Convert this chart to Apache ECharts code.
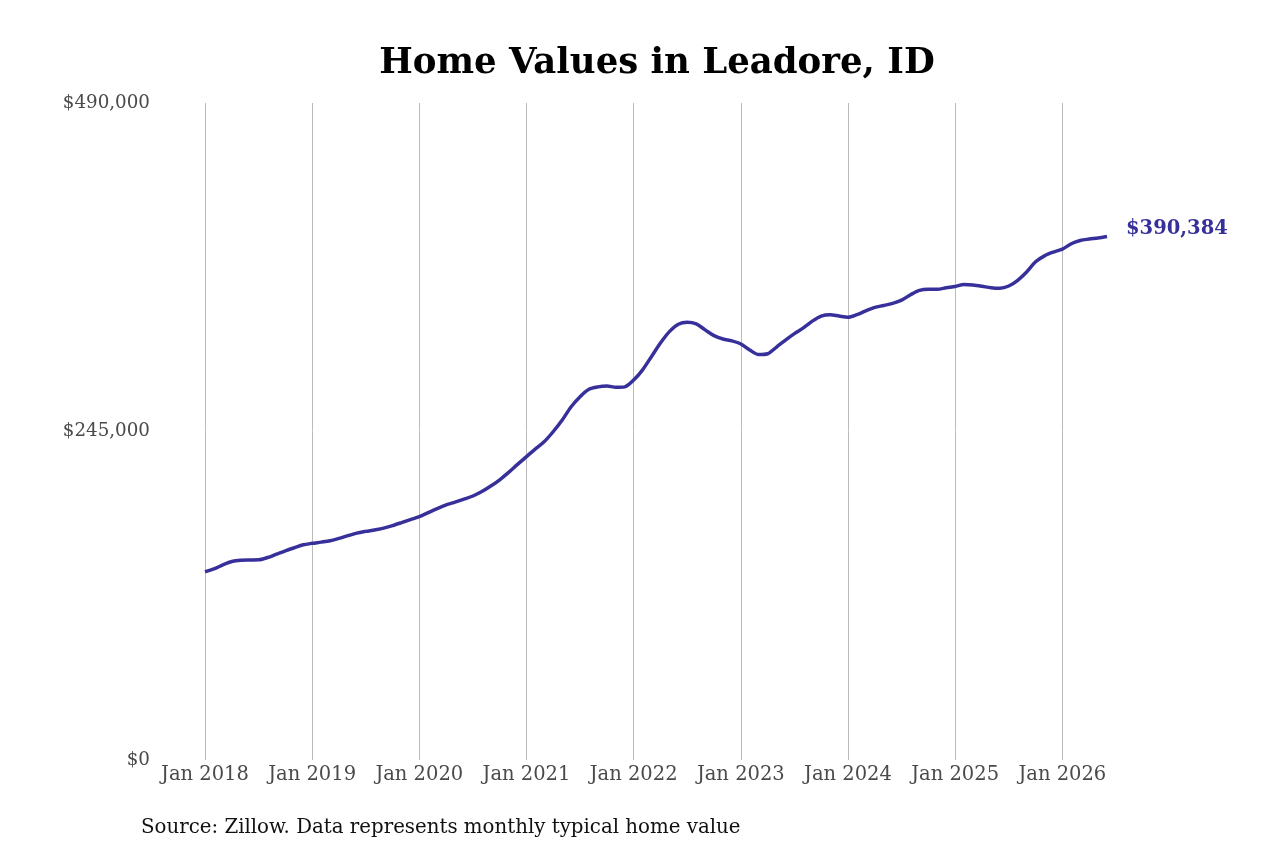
<!DOCTYPE html>
<html>
<head>
<meta charset="utf-8">
<title>Home Values in Leadore, ID</title>
<script src="https://cdn.jsdelivr.net/npm/echarts@6/dist/echarts.min.js"></script>
<style>
  html, body { margin: 0; padding: 0; background: #fff; }
  #chart { width: 1280px; height: 853px; }
</style>
</head>
<body>
<div id="chart"></div>
<script>
// monthly typical home value, Jan 2018 .. Jun 2026
var startYear = 2018;
var values = [
    140400, 142500, 145500, 148000, 149000, 149200, 149300, 151000, 153500, 156000, 158300, 160500,
    161600, 162500, 163500, 165300, 167300, 169200, 170500, 171600, 172900, 174800, 177000, 179300,
    181500, 184500, 187500, 190200, 192300, 194500, 196900, 200200, 204300, 209000, 214500, 220500,
    226300, 232000, 237500, 245000, 253600, 263500, 271000, 276500, 278300, 278900, 278000, 278300,
    283400, 291000, 301000, 311000, 319500, 325000, 326500, 325300, 320800, 316500, 314000, 312600,
    310300, 305800, 302400, 303000, 308000, 313200, 318000, 322300, 327300, 331100, 332100, 331100,
    330200, 332200, 335000, 337600, 339000, 340600, 343000, 347000, 350200, 351000, 351000, 352200,
    353200, 354600, 354200, 353300, 352200, 351800, 353500, 357800, 364000, 371600, 376000, 378800,
    381000, 385000, 387500, 388500, 389300, 390384
];
var monthNames = ["Jan", "Feb", "Mar", "Apr", "May", "Jun", "Jul", "Aug", "Sep", "Oct", "Nov", "Dec"];
var yTicks = [0, 245000, 490000];

var categories = values.map(function (v, i) {
    return monthNames[i % 12] + " " + (startYear + Math.floor(i / 12));
});

var lineColor = "#38309a";
var font = "DejaVu Serif";

var fmtMoney = function (v) {
    return "$" + Math.round(v).toString().replace(/\B(?=(\d{3})+(?!\d))/g, ",");
};

var chart = echarts.init(document.getElementById("chart"));
chart.setOption({
    animation: false,
    backgroundColor: "#fff",
    title: {
        text: "Home Values in Leadore, ID",
        left: 652,
        textAlign: "center",
        top: 41,
        textStyle: { fontFamily: font, fontSize: 35.5, fontWeight: "bold", color: "#000" }
    },
    graphic: [{
        type: "text",
        left: 141,
        top: 818,
        style: {
            text: "Source: Zillow. Data represents monthly typical home value",
            fontFamily: font,
            fontSize: 19.8,
            fill: "#111"
        }
    }],
    grid: { left: 205, right: 173, top: 103, bottom: 93 },
    xAxis: {
        type: "category",
        data: categories,
        boundaryGap: false,
        axisLine: { show: false },
        axisTick: { show: false },
        axisLabel: {
            interval: function (i) { return i % 12 === 0; },
            fontFamily: font,
            fontSize: 19.5,
            color: "#4a4a4a",
            margin: 5
        },
        splitLine: {
            show: true,
            interval: function (i) { return i % 12 === 0; },
            lineStyle: { color: "#bbb", width: 1 }
        }
    },
    yAxis: {
        type: "value",
        min: yTicks[0],
        max: yTicks[yTicks.length - 1],
        interval: yTicks[1] - yTicks[0],
        axisLine: { show: false },
        axisTick: { show: false },
        splitLine: { show: false },
        axisLabel: {
            fontFamily: font,
            fontSize: 18.3,
            color: "#4a4a4a",
            margin: 55,
            formatter: fmtMoney
        }
    },
    series: [{
        type: "line",
        data: values,
        smooth: 0.3,
        showSymbol: false,
        lineStyle: { color: lineColor, width: 3.5 },
        endLabel: {
            show: true,
            distance: 19,
            formatter: function (p) { return fmtMoney(p.value); },
            fontFamily: font,
            fontSize: 19.5,
            fontWeight: "bold",
            color: lineColor,
            offset: [0, -8]
        }
    }]
});
</script>
</body>
</html>
